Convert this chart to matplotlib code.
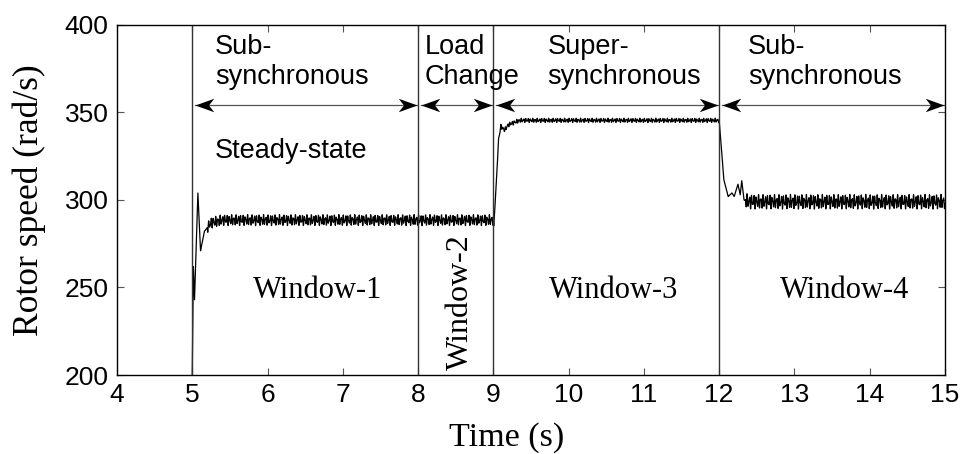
import numpy as np
import matplotlib
matplotlib.use("Agg")
import matplotlib.pyplot as plt
from matplotlib.path import Path

# window boundaries (s) and the labels of each window
edges = [5, 8, 9, 12, 15]
window_names = ["Window-1", "Window-2", "Window-3", "Window-4"]
mode_names = ["Sub-\nsynchronous", "Load\nChange", "Super-\nsynchronous", "Sub-\nsynchronous"]

# rotor speed trajectory (rad/s), key points of the transients and steady levels
t_key = [5.00, 5.015, 5.03, 5.075, 5.11, 5.16, 5.25, 5.40, 8.00,
         9.00, 9.005, 9.07, 9.10, 9.15, 9.20, 9.35, 12.00,
         12.03, 12.06, 12.12, 12.17, 12.20, 12.25, 12.28, 12.30, 12.33, 12.40, 15.00]
w_key = [200, 262, 243, 304, 271, 282, 287, 288.5, 288.5,
         288.5, 284, 335, 342, 340, 343, 345.5, 345.5,
         330, 312, 302, 304, 302, 309, 303, 311, 300, 299, 299]

# ripple half-amplitude in each window (rad/s)
ripple = [3.0, 3.0, 1.2, 4.0]

t = np.arange(5.0, 15.0, 0.001)
speed = np.interp(t, t_key, w_key)
amp = np.zeros_like(t)
for k in range(4):
    amp[(t >= edges[k]) & (t < edges[k + 1])] = ripple[k]
amp[t < 5.2] = 0
amp[(t > 12.0) & (t < 12.35)] = 0
speed = speed + amp * (0.7 * np.sin(2 * np.pi * 33 * t) + 0.35 * np.sin(2 * np.pi * 52 * t))

sans = "Liberation Sans"
serif = "Liberation Serif"

fig = plt.figure(figsize=(9.62, 4.54), dpi=100)
ax = fig.add_axes([0.1216, 0.174, 0.8607, 0.771])

ax.plot(t, speed, color="black", lw=0.9)

for e in edges[:-1]:
    ax.axvline(e, color="#333333", lw=1.0)

# double headed arrows across each window, notched heads
head_r = Path([(0, 0), (-1, 0.36), (-0.72, 0), (-1, -0.36), (0, 0)],
              [Path.MOVETO, Path.LINETO, Path.LINETO, Path.LINETO, Path.CLOSEPOLY])
head_l = Path([(0, 0), (1, 0.36), (0.72, 0), (1, -0.36), (0, 0)],
              [Path.MOVETO, Path.LINETO, Path.LINETO, Path.LINETO, Path.CLOSEPOLY])
y_arr = 354.5
for k in range(4):
    a, b = edges[k] + 0.04, edges[k + 1] - 0.015
    ax.plot([a, b], [y_arr, y_arr], color="#555555", lw=0.9)
    ax.plot([a], [y_arr], marker=head_l, ms=27, color="black", mec="black", mew=0)
    ax.plot([b], [y_arr], marker=head_r, ms=27, color="black", mec="black", mew=0)

text_x = [5.30, 8.09, 9.72, 12.38]
for x, s in zip(text_x, mode_names):
    ax.text(x, 395, s, family=sans, fontsize=19.5, va="top", ha="left", linespacing=1.2)
ax.text(5.30, 324, "Steady-state", family=sans, fontsize=19.5, va="baseline", ha="left")

ax.text(6.66, 244, window_names[0], family=serif, fontsize=22, ha="center", va="baseline")
ax.text(8.56, 241.5, window_names[1], family=serif, fontsize=23, ha="center", va="center", rotation=90)
ax.text(10.60, 244, window_names[2], family=serif, fontsize=22, ha="center", va="baseline")
ax.text(13.67, 244, window_names[3], family=serif, fontsize=22, ha="center", va="baseline")

ax.set_xlim(4, 15)
ax.set_ylim(200, 400)
ax.set_xticks(range(4, 16))
ax.set_yticks([200, 250, 300, 350, 400])
ax.tick_params(direction="in", top=True, right=True, length=5, width=0.8,
               color="#555555", labelsize=19, pad=6)
for lab in ax.get_xticklabels() + ax.get_yticklabels():
    lab.set_family(sans)
for sp in ax.spines.values():
    sp.set_linewidth(1.0)

ax.set_xlabel("Time (s)", family=serif, fontsize=24.5, va="center")
ax.xaxis.set_label_coords(0.471, -0.178)
ax.set_ylabel("Rotor speed (rad/s)", family=serif, fontsize=25.5, va="center")
ax.yaxis.set_label_coords(-0.106, 0.5)

fig.savefig("out.png", dpi=100)
